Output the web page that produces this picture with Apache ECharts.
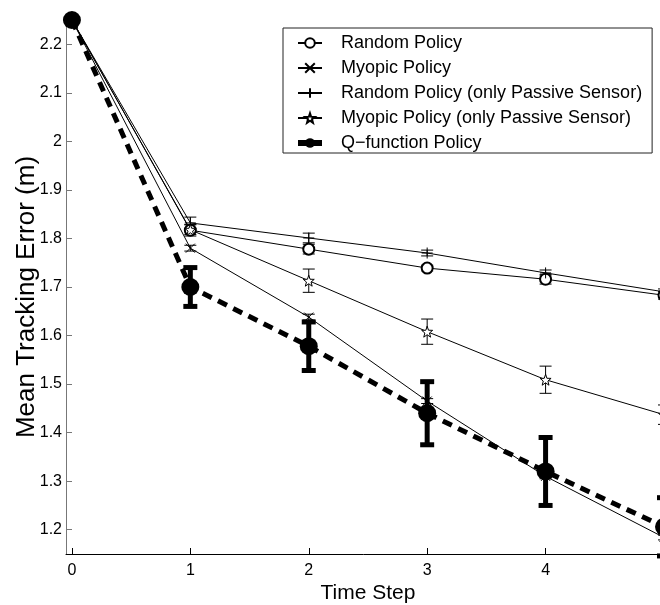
<!DOCTYPE html>
<html>
<head>
<meta charset="utf-8">
<title>Mean Tracking Error</title>
<script src="https://cdn.jsdelivr.net/npm/echarts@6/dist/echarts.min.js"></script>
<style>
  body, html { margin: 0; padding: 0; background: #fff; }
  #chart { width: 660px; height: 605px; }
</style>
</head>
<body>
<div id="chart"></div>
<script>
// data
var steps = [0, 1, 2, 3, 4, 5];
var xTicks = [0, 1, 2, 3, 4, 5];
var xLabels = [0, 1, 2, 3, 4];
var yTicks = [1.2, 1.3, 1.4, 1.5, 1.6, 1.7, 1.8, 1.9, 2, 2.1, 2.2];

var randomPolicy = [2.25, 1.817, 1.778, 1.739, 1.716, 1.683];
var randomErr = [0, 0.012, 0.01, 0.006, 0.01, 0.008];
var myopicPolicy = [2.25, 1.780, 1.638, 1.465, 1.310, 1.184];
var myopicErr = [0, 0.006, 0.006, 0.005, 0.005, 0.005];
var randomPassive = [2.25, 1.832, 1.801, 1.770, 1.729, 1.690];
var randomPassiveErr = [0, 0.012, 0.01, 0.006, 0.006, 0.006];
var myopicPassive = [2.25, 1.818, 1.713, 1.608, 1.509, 1.437];
var myopicPassiveErr = [0, 0.01, 0.024, 0.026, 0.028, 0.02];
var qPolicy = [2.25, 1.700, 1.578, 1.440, 1.320, 1.206];
var qErr = [0, 0.04, 0.05, 0.065, 0.07, 0.06];

var names = ['Random Policy', 'Myopic Policy', 'Random Policy (only Passive Sensor)',
             'Myopic Policy (only Passive Sensor)', 'Q\u2212function Policy'];

var FONT = '"Liberation Sans", Arial, Helvetica, sans-serif';
var SYM_X = 'path://M0,0L10,10M0,10L10,0';
var SYM_PLUS = 'path://M5,0L5,10M0,5L10,5';
var SYM_STAR = 'path://M5,0L6.2,3.5L10,3.6L7.1,5.9L8.1,9.5L5,7.4L1.9,9.5L2.9,5.9L0,3.6L3.8,3.5Z';

function pairs(vals) {
    return steps.map(function (s, i) { return [s, vals[i]]; });
}
function bars(vals, errs) {
    var out = [];
    steps.forEach(function (s, i) {
        if (errs[i] > 0) out.push([s, vals[i] - errs[i], vals[i] + errs[i]]);
    });
    return out;
}

function errorRender(lineW, capHalf) {
    return function (params, api) {
        var x = api.value(0);
        var top = api.coord([x, api.value(2)]);
        var bot = api.coord([x, api.value(1)]);
        var st = { stroke: '#000', lineWidth: lineW, fill: 'none' };
        return {
            type: 'group',
            children: [
                { type: 'line', shape: { x1: top[0], y1: top[1], x2: bot[0], y2: bot[1] }, style: st },
                { type: 'line', shape: { x1: top[0] - capHalf, y1: top[1], x2: top[0] + capHalf, y2: top[1] }, style: st },
                { type: 'line', shape: { x1: bot[0] - capHalf, y1: bot[1], x2: bot[0] + capHalf, y2: bot[1] }, style: st }
            ]
        };
    };
}

function thinLine(name, vals, symbol, size, fill) {
    return {
        name: name,
        type: 'line',
        data: pairs(vals),
        symbol: symbol,
        symbolSize: size,
        showAllSymbol: true,
        z: 3,
        lineStyle: { color: '#000', width: 1 },
        itemStyle: { color: fill, borderColor: '#000', borderWidth: 1 }
    };
}
function errSeries(vals, errs, lineW, capHalf, z) {
    return {
        type: 'custom',
        name: 'err',
        data: bars(vals, errs),
        renderItem: errorRender(lineW, capHalf),
        z: z,
        silent: true
    };
}

var chart = echarts.init(document.getElementById('chart'));

var option = {
    backgroundColor: '#fff',
    animation: false,
    grid: { left: 66, right: -4, top: 20, bottom: 51, outerBoundsMode: 'none' },
    xAxis: {
        type: 'value',
        min: -0.05,
        max: 5,
        name: 'Time Step',
        nameLocation: 'middle',
        nameGap: 29,
        nameMoveOverlap: false,
        nameTextStyle: { fontSize: 21, color: '#000', fontFamily: FONT, padding: [0, 0, 0, 6] },
        axisLine: { show: true, onZero: false, lineStyle: { color: '#000', width: 1 } },
        axisTick: { show: true, inside: true, length: 6, customValues: xTicks, lineStyle: { color: '#000' } },
        axisLabel: { customValues: xLabels, fontSize: 16, color: '#000', fontFamily: FONT, margin: 9 },
        splitLine: { show: false }
    },
    yAxis: {
        type: 'value',
        min: 1.15,
        max: 2.25,
        name: 'Mean Tracking Error (m)',
        nameLocation: 'middle',
        nameGap: 26,
        nameMoveOverlap: false,
        nameTextStyle: { fontSize: 26, color: '#000', fontFamily: FONT, padding: [0, 20, 0, 0] },
        axisLine: { show: true, onZero: false, lineStyle: { color: '#777', width: 1 } },
        axisTick: { show: true, inside: true, length: 6, customValues: yTicks, lineStyle: { color: '#777' } },
        axisLabel: { customValues: yTicks, fontSize: 16, color: '#000', fontFamily: FONT, margin: 4 },
        splitLine: { show: false }
    },
    legend: {
        orient: 'vertical',
        left: 283,
        top: 28,
        padding: [5, 10, 0, 12],
        itemGap: 5,
        itemWidth: 24,
        itemHeight: 12,
        borderColor: '#222',
        borderWidth: 1,
        backgroundColor: '#fff',
        textStyle: { fontSize: 18, lineHeight: 20, color: '#000', fontFamily: FONT, padding: [0, 0, 0, 14] },
        data: [
            { name: names[0] },
            { name: names[1] },
            { name: names[2] },
            { name: names[3] },
            { name: names[4], lineStyle: { type: 'solid', width: 6 } }
        ]
    },
    series: [
        thinLine(names[0], randomPolicy, 'emptyCircle', 11, '#000'),
        thinLine(names[1], myopicPolicy, SYM_X, 9, '#000'),
        thinLine(names[2], randomPassive, SYM_PLUS, 11, '#000'),
        thinLine(names[3], myopicPassive, SYM_STAR, 11, '#fff'),
        {
            name: names[4],
            type: 'line',
            data: pairs(qPolicy),
            symbol: 'circle',
            symbolSize: 18,
            showAllSymbol: true,
            z: 5,
            lineStyle: { color: '#000', width: 5, type: [10, 7] },
            itemStyle: { color: '#000' }
        },
        errSeries(randomPolicy, randomErr, 1, 6, 2),
        errSeries(myopicPolicy, myopicErr, 1, 6, 2),
        errSeries(randomPassive, randomPassiveErr, 1, 6, 2),
        errSeries(myopicPassive, myopicPassiveErr, 1, 6, 2),
        errSeries(qPolicy, qErr, 5, 7, 4)
    ]
};

chart.setOption(option);
</script>
</body>
</html>
